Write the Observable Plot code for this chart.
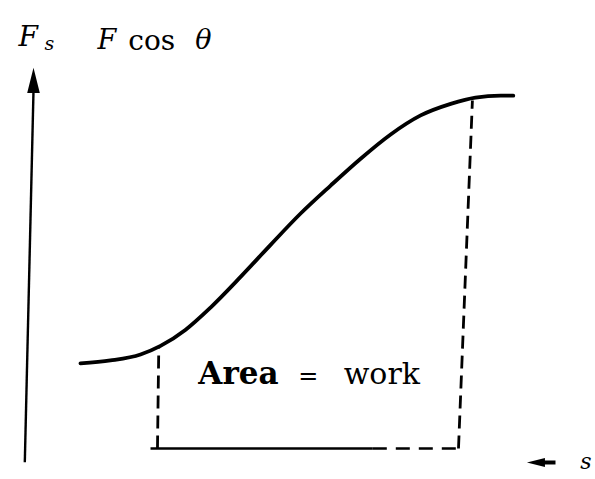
<!DOCTYPE html>
<html>
<head>
<meta charset="utf-8">
<script src="https://cdn.jsdelivr.net/npm/d3@7"></script>
<script src="https://cdn.jsdelivr.net/npm/@observablehq/plot@0.6"></script>
<style>
  html, body { margin: 0; padding: 0; background: #fff; }
  #chart svg { display: block; }
</style>
</head>
<body>
<div id="chart"></div>
<script>
// Displacement s along the path and the force component along it, Fs = F cos θ
const sValues = [1.08, 1.77, 2.46, 2.92, 3.49, 4.07, 4.76, 5.45, 6.14, 6.83, 7.52, 8.21, 8.90, 9.59, 10.16, 10.74, 11.03];
const forceValues = [2.28, 2.36, 2.52, 2.75, 3.18, 3.78, 4.60, 5.46, 6.30, 7.05, 7.77, 8.42, 8.93, 9.24, 9.41, 9.46, 9.46];

// Limits of the region under the curve (start and end displacement) and curve height there
const lowerLimit = { bottom: 2.85, top: 2.88, force: 2.72 };
const upperLimit = { bottom: 9.77, top: 10.09, force: 9.33 };

// Text
const yLabelParts = ["F", "s", "F", "cos", "θ"];
const xLabel = "s";
const areaLabelParts = ["Area", "=", "work"];

const curve = sValues.map((s, i) => ({ s, F: forceValues[i] }));

// Slim filled arrowhead pointing up (rotate for other directions)
const arrowHead = {
  draw(context, size) {
    const r = Math.sqrt(size / Math.PI);
    context.moveTo(0, -1.8 * r);
    context.lineTo(0.9 * r, 1.8 * r);
    context.lineTo(-0.9 * r, 1.8 * r);
    context.closePath();
  }
};

const font = "DejaVu Serif";
const ink = "#000";

const chart = Plot.plot({
  width: 595,
  height: 479,
  marginLeft: 33,
  marginRight: 40,
  marginTop: 75,
  marginBottom: 31,
  x: { domain: [0, 12], axis: null },
  y: { domain: [0, 10], axis: null },
  style: { background: "#fff", fontFamily: font },
  marks: [
    // vertical force axis with arrow
    Plot.link([{ x1: -0.2, y1: -0.37, x2: 0, y2: 9.6 }], {
      x1: "x1", y1: "y1", x2: "x2", y2: "y2", stroke: ink, strokeWidth: 2.4
    }),
    Plot.dot([{ s: 0, F: 9.87 }], { x: "s", y: "F", symbol: arrowHead, r: 7, fill: ink, stroke: null }),

    // horizontal displacement arrow
    Plot.link([{ x1: 11.59, x2: 12.0, y: -0.375 }], {
      x1: "x1", x2: "x2", y1: "y", y2: "y", stroke: ink, strokeWidth: 4
    }),
    Plot.dot([{ s: 11.55, F: -0.375 }], { x: "s", y: "F", symbol: arrowHead, r: 5, rotate: -90, fill: ink, stroke: null }),

    // base of the area between the limits
    Plot.link([{ x1: 2.69, x2: 7.8 }], {
      x1: "x1", x2: "x2", y1: () => 0, y2: () => 0, stroke: ink, strokeWidth: 2.6
    }),
    Plot.link([{ x1: 7.8, x2: upperLimit.bottom }], {
      x1: "x1", x2: "x2", y1: () => 0, y2: () => 0, stroke: ink, strokeWidth: 2.6, strokeDasharray: "14,9"
    }),

    // dashed limits of integration
    Plot.link([lowerLimit, upperLimit], {
      x1: "bottom", y1: () => 0, x2: "top", y2: "force",
      stroke: ink, strokeWidth: 2.8, strokeDasharray: "13,7"
    }),

    // force curve
    Plot.line(curve, { x: "s", y: "F", curve: "monotone-x", stroke: ink, strokeWidth: 3.8 }),

    // axis labels
    Plot.text([{ s: -0.345, F: 10.8, t: yLabelParts[0] }], {
      x: "s", y: "F", text: "t", textAnchor: "start", lineAnchor: "bottom",
      fontSize: 28, fontStyle: "italic", fill: ink
    }),
    Plot.text([{ s: 0.25, F: 10.68, t: yLabelParts[1] }], {
      x: "s", y: "F", text: "t", textAnchor: "start", lineAnchor: "bottom",
      fontSize: 19, fontStyle: "italic", fill: ink
    }),
    Plot.text([{ s: 1.47, F: 10.72, t: yLabelParts[2] }, { s: 3.72, F: 10.72, t: yLabelParts[4] }], {
      x: "s", y: "F", text: "t", textAnchor: "start", lineAnchor: "bottom",
      fontSize: 27, fontStyle: "italic", fill: ink
    }),
    Plot.text([{ s: 2.18, F: 10.68, t: yLabelParts[3] }], {
      x: "s", y: "F", text: "t", textAnchor: "start", lineAnchor: "bottom",
      fontSize: 28, fill: ink
    }),
    Plot.text([{ s: 12.57, F: -0.56, t: xLabel }], {
      x: "s", y: "F", text: "t", textAnchor: "start", lineAnchor: "bottom",
      fontSize: 22, fontStyle: "italic", fill: ink
    }),

    // area annotation
    Plot.text([{ s: 3.79, F: 1.72, t: areaLabelParts[0] }], {
      x: "s", y: "F", text: "t", textAnchor: "start", lineAnchor: "bottom",
      fontSize: 31, fontWeight: "bold", fill: ink
    }),
    Plot.text([{ s: 6.32, F: 1.72, t: areaLabelParts[1] }], {
      x: "s", y: "F", text: "t", textAnchor: "middle", lineAnchor: "bottom",
      fontSize: 24, fill: ink
    }),
    Plot.text([{ s: 7.13, F: 1.72, t: areaLabelParts[2] }], {
      x: "s", y: "F", text: "t", textAnchor: "start", lineAnchor: "bottom",
      fontSize: 30, fill: ink
    })
  ]
});

document.getElementById("chart").append(chart);
</script>
</body>
</html>
